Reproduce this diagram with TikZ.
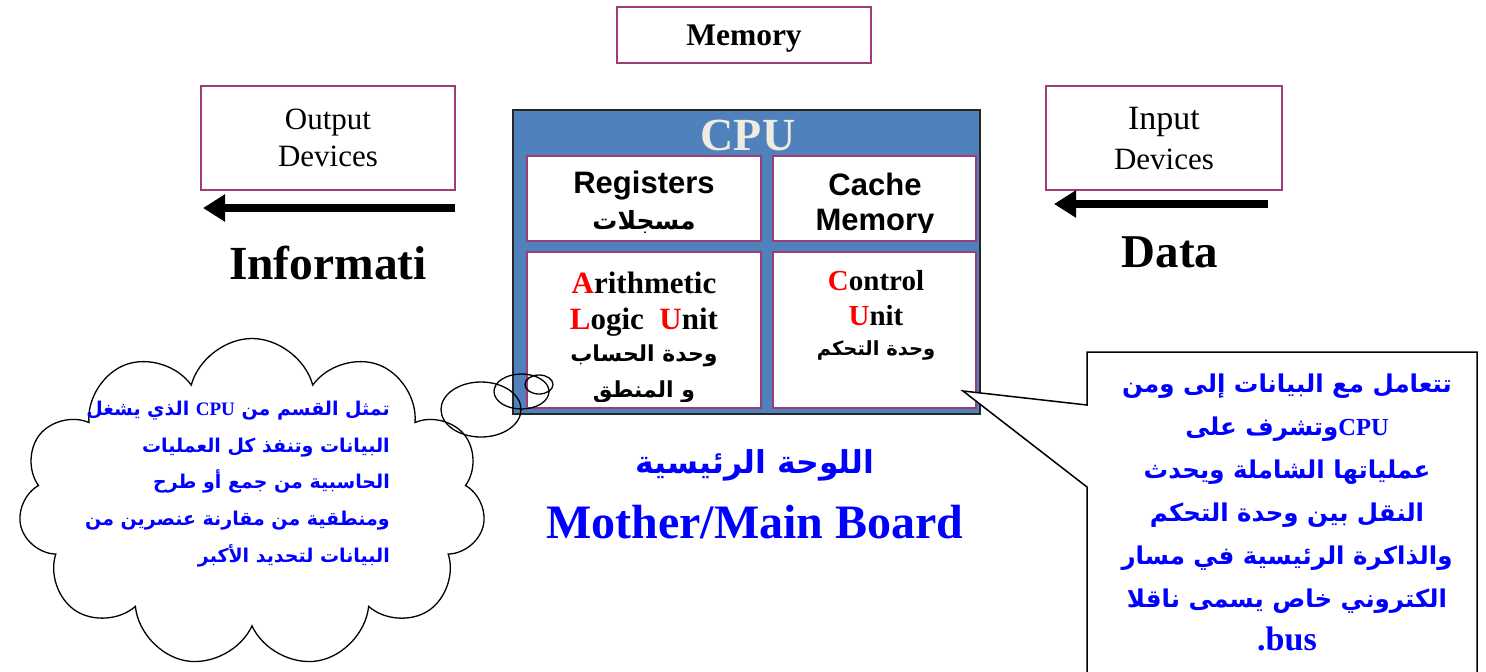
\documentclass[tikz,border=0pt]{standalone}
\usepackage{fontspec}
\setmainfont{Liberation Serif}
\setsansfont{Liberation Sans}
\newfontfamily\arabicfont[Script=Arabic]{DejaVu Sans}
\TeXXeTstate=1
\usetikzlibrary{arrows.meta,shapes.symbols}
\definecolor{boxline}{RGB}{158,60,120}
\definecolor{cpublue}{RGB}{79,129,189}
\definecolor{cream}{RGB}{238,236,225}
\newcommand{\fsz}[2]{\fontsize{#1}{#2}\selectfont}
\newcommand{\artext}[1]{{\arabicfont\bfseries\beginR #1\endR}}
\newcommand{\redcap}[1]{\textcolor{red}{#1}}
\tikzset{
  devbox/.style={draw=boxline, line width=1.5pt, inner sep=0pt, align=center},
  unitbox/.style={draw=boxline, line width=1.5pt, fill=white, inner sep=0pt},
  bigarrow/.style={line width=8pt, -{Triangle[length=22pt,width=26pt]}},
  bubble/.style={draw, line width=1.3pt},
  bluenote/.style={text=blue, inner sep=0pt},
}
\begin{document}
\begin{tikzpicture}[x=1pt,y=-1pt]
\useasboundingbox (0,0) rectangle (1486,672);
%\draw[help lines] (0,0) grid[step=100] (1486,672);
% devices and memory
\node[devbox, minimum width=254pt, minimum height=56pt, text depth=0pt, font=\fsz{31.5}{36}\bfseries] (memory) at (744,35) {Memory};
\node[devbox, minimum width=254pt, minimum height=104pt, font=\fsz{31}{37}] (output) at (328,138) {Output\\Devices};
\node[devbox, minimum width=236pt, minimum height=104pt, text depth=0pt, font=\fsz{31}{40}] (input) at (1164,138) {{\fsz{34}{40}Input}\\Devices};
\coordinate (outtail) at (455,208);
\coordinate (outtip) at (203,208);
\coordinate (intail) at (1268,204);
\coordinate (intip) at (1054,204);
\draw[bigarrow] (outtail) -- (outtip);
\draw[bigarrow] (intail) -- (intip);
\node[font=\fsz{47.5}{50}\bfseries] (info) at (328,263) {Informati};
\node[font=\fsz{47}{50}\bfseries] (data) at (1170,252) {Data};
% cpu
\node[draw=black!85, line width=2pt, fill=cpublue, minimum width=467pt, minimum height=304pt] (cpu) at (746.5,261.5) {};
\node[text=cream, font=\fsz{46}{50}\bfseries] (cputitle) at (748,135) {CPU};
\node[unitbox, minimum width=234pt, minimum height=85pt] (registers) at (644,198.5) {};
\node[unitbox, minimum width=203pt, minimum height=85pt] (cache) at (874.5,198.5) {};
\node[unitbox, minimum width=234pt, minimum height=156pt] (alu) at (644,330) {};
\node[unitbox, minimum width=203pt, minimum height=156pt] (control) at (874.5,330) {};
\begin{scope}
\clip ([yshift=9pt]registers.south west) rectangle (registers.north east);
\node[font=\fsz{31}{36}\sffamily\bfseries] (regname) at (644,186) {Registers};
\node[font=\fsz{25}{30}] (regar) at (644,222) {\artext{مسجلات}};
\end{scope}
\begin{scope}
\clip ([yshift=9pt]cache.south west) rectangle (cache.north east);
\node[font=\fsz{31}{35}\sffamily\bfseries, align=center] (cachename) at (875,205) {Cache\\Memory};
\end{scope}
\begin{scope}
\clip ([yshift=7pt]alu.south west) rectangle (alu.north east);
\node[anchor=base, font=\fsz{31}{35}\bfseries] (aluname) at (644,293) {\redcap{A}rithmetic};
\node[anchor=base, font=\fsz{31}{35}\bfseries] (aluname2) at (644,329) {\redcap{L}ogic\enspace\redcap{U}nit};
\node[font=\fsz{22}{30}] (aluar) at (644,356) {\artext{وحدة الحساب}};
\node[font=\fsz{22}{30}] (aluar2) at (644,392) {\artext{و المنطق}};
\end{scope}
\node[font=\fsz{29}{35}\bfseries, align=center] (ctrlname) at (876,298) {\redcap{C}ontrol\\\redcap{U}nit};
\node[font=\fsz{19.5}{30}] (ctrlar) at (876,350) {\artext{وحدة التحكم}};
% board label
\node[bluenote, font=\fsz{31.5}{40}] (boardar) at (755,465) {\artext{اللوحة الرئيسية}};
\node[bluenote, font=\fsz{48}{50}\bfseries] (board) at (755,522) {Mother/Main Board};
% cloud note for the alu
\node[cloud, draw, line width=1.3pt, cloud puffs=11, aspect=1.42, minimum width=467pt, minimum height=329pt] (alucloud) at (252,503) {};
\draw[bubble] (481,409.5) ellipse [x radius=40, y radius=27.5];
\draw[bubble] (521.5,391.5) ellipse [x radius=27.5, y radius=17.5];
\draw[bubble] (539,384.5) ellipse [x radius=14, y radius=9.5];
\node[bluenote, anchor=east, align=right, font=\fsz{19}{36.7}] (alunote) at (390,484) {%
\artext{تمثل القسم من \beginL{\rmfamily CPU}\endL{} الذي يشغل}\\
\artext{البيانات وتنفذ كل العمليات}\\
\artext{الحاسبية من جمع أو طرح}\\
\artext{ومنطقية من مقارنة عنصرين من}\\
\artext{البيانات لتحديد الأكبر}};
% callout for the control unit
\coordinate (cutip) at (963,391);
\draw[line width=1.5pt, fill=white] (1087,405) -- (1087,352) -- (1477,352) -- (1477,700) -- (1087,700) -- (1087,487) -- (cutip) -- cycle;
\node[bluenote, align=center, font=\fsz{24.5}{43}] (cunote) at (1287,512) {%
\artext{تتعامل مع البيانات إلى ومن}\\
\artext{\beginL{\rmfamily CPU}\endL وتشرف على}\\
\artext{عملياتها الشاملة ويحدث}\\
\artext{النقل بين وحدة التحكم}\\
\artext{والذاكرة الرئيسية في مسار}\\
\artext{الكتروني خاص يسمى ناقلا}\\
{\fsz{34}{43}\bfseries .bus}};
\end{tikzpicture}
\end{document}
